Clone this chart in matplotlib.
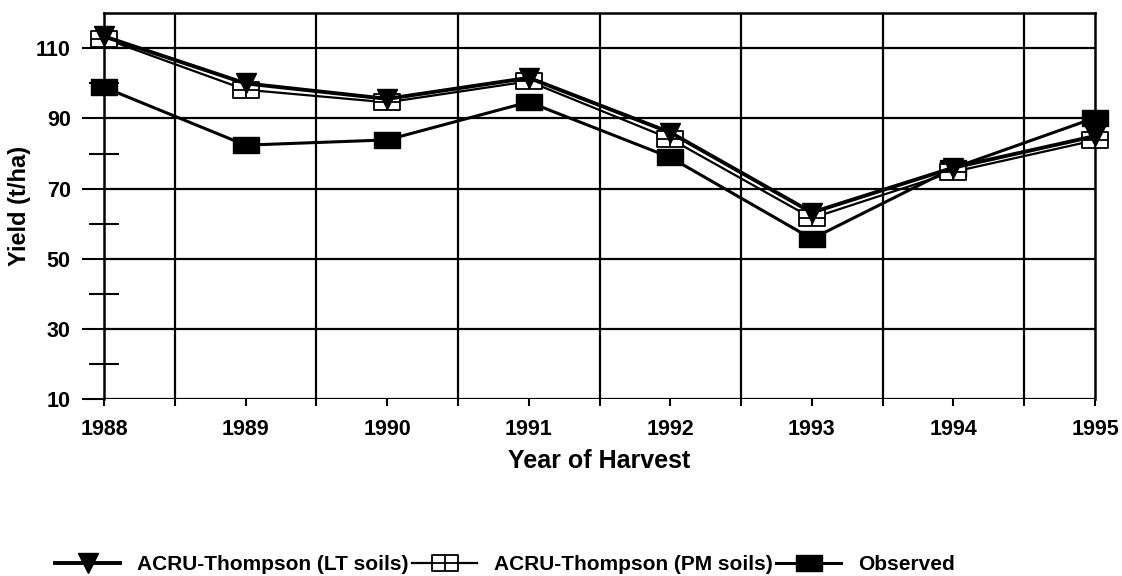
import numpy as np
import matplotlib
matplotlib.use("Agg")
import matplotlib.pyplot as plt
from matplotlib.path import Path

plt.rcParams["font.family"] = ["Liberation Sans", "DejaVu Sans"]
plt.rcParams["font.weight"] = "bold"

years = [1988, 1989, 1990, 1991, 1992, 1993, 1994, 1995]
lt_soils = [113.4, 100.0, 95.6, 101.6, 86.0, 63.2, 76.0, 85.0]
pm_soils = [112.8, 98.2, 94.6, 100.6, 84.2, 61.6, 74.8, 83.8]
observed = [98.9, 82.4, 83.9, 94.7, 78.9, 55.7, 75.9, 90.2]

labels = [
    "ACRU-Thompson (LT soils)",
    "ACRU-Thompson (PM soils)",
    "Observed",
]

# wide rectangle marker, plus a version with a cross inside
rect = Path([(-1, -0.6), (1, -0.6), (1, 0.6), (-1, 0.6), (-1, -0.6)],
            [Path.MOVETO, Path.LINETO, Path.LINETO, Path.LINETO, Path.CLOSEPOLY])
rect_cross = Path(
    [(-1, -0.6), (1, -0.6), (1, 0.6), (-1, 0.6), (-1, -0.6),
     (0, -0.6), (0, 0.6), (-1, 0.0), (1, 0.0)],
    [Path.MOVETO, Path.LINETO, Path.LINETO, Path.LINETO, Path.CLOSEPOLY,
     Path.MOVETO, Path.LINETO, Path.MOVETO, Path.LINETO],
)

fig = plt.figure(figsize=(11.22, 5.76), dpi=100)
ax = fig.add_axes([0.0927, 0.307, 0.8833, 0.670])

ax.plot(years, observed, color="black", lw=2.2, marker=rect, ms=19,
        mfc="black", mec="black", label=labels[2], zorder=3, clip_on=False)
ax.plot(years, pm_soils, color="black", lw=1.6, marker=rect_cross, ms=19,
        mfc="white", mec="black", mew=1.3, label=labels[1], zorder=4,
        clip_on=False)
ax.plot(years, lt_soils, color="black", lw=2.8, marker="v", ms=14,
        mfc="black", mec="black", label=labels[0], zorder=5, clip_on=False)

ax.set_xlim(1988, 1995)
ax.set_ylim(10, 120)
ax.set_xticks(years)
ax.set_xticks([y + 0.5 for y in years[:-1]], minor=True)
ax.set_yticks(np.arange(10, 111, 20))
ax.set_yticks(np.arange(20, 101, 20), minor=True)

ax.grid(True, which="major", axis="y", color="black", lw=1.6)
ax.grid(True, which="minor", axis="x", color="black", lw=1.6)
ax.set_axisbelow(True)

for side in ["left", "right", "top"]:
    ax.spines[side].set_linewidth(1.8)
ax.spines["bottom"].set_visible(False)

ax.tick_params(axis="y", which="major", direction="out", length=16, width=1.5,
               labelsize=15.5, pad=8)
ax.tick_params(axis="y", which="minor", direction="inout", length=22, width=1.5)
ax.tick_params(axis="x", which="both", direction="out", length=5, width=1.5,
               labelsize=15.5, pad=9)

ax.set_xlabel("Year of Harvest", fontsize=18, fontweight="bold", va="top")
ax.xaxis.set_label_coords(0.5, -0.128)
ax.set_ylabel("Yield (t/ha)", fontsize=17, fontweight="bold", va="center")
ax.yaxis.set_label_coords(-0.085, 0.5)

handles, hl = ax.get_legend_handles_labels()
order = [2, 1, 0]
fig.legend([handles[i] for i in order], [hl[i] for i in order],
           loc="center", bbox_to_anchor=(0.450, 0.02), ncol=3, frameon=False,
           handlelength=3.1, handletextpad=0.8, columnspacing=0.2,
           prop={"weight": "bold", "size": 15})

fig.savefig("out.png", dpi=100)
